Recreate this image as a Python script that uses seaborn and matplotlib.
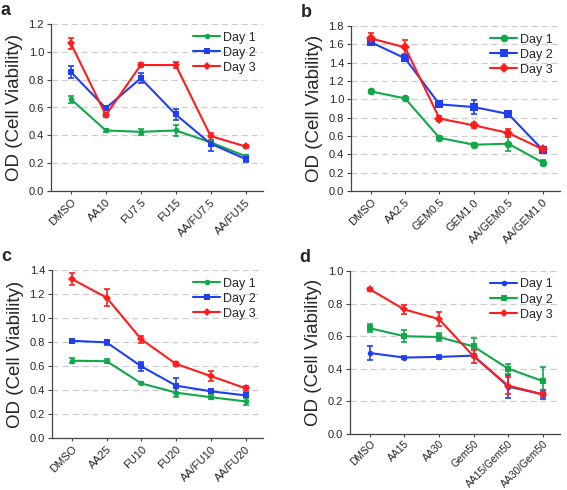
import numpy as np
import pandas as pd
import matplotlib
matplotlib.use('Agg')
import matplotlib.pyplot as plt
import seaborn as sns

# Panel a
cats_a = ['DMSO', 'AA10', 'FU7.5', 'FU15', 'AA/FU7.5', 'AA/FU15']
a_day1 = [0.66, 0.435, 0.425, 0.435, 0.35, 0.25]
a_day1_err = [0.025, 0.01, 0.02, 0.04, 0.02, 0.01]
a_day2 = [0.855, 0.595, 0.81, 0.55, 0.34, 0.23]
a_day2_err = [0.04, 0.015, 0.035, 0.04, 0.05, 0.02]
a_day3 = [1.06, 0.545, 0.905, 0.905, 0.395, 0.32]
a_day3_err = [0.04, 0.015, 0.015, 0.02, 0.025, 0.01]

# Panel b
cats_b = ['DMSO', 'AA2.5', 'GEM0.5', 'GEM1.0', 'AA/GEM0.5', 'AA/GEM1.0']
b_day1 = [1.087, 1.01, 0.58, 0.505, 0.516, 0.31]
b_day1_err = [0.015, 0.01, 0.02, 0.015, 0.085, 0.03]
b_day2 = [1.625, 1.447, 0.945, 0.916, 0.84, 0.447]
b_day2_err = [0.02, 0.02, 0.02, 0.075, 0.02, 0.02]
b_day3 = [1.665, 1.567, 0.79, 0.716, 0.633, 0.455]
b_day3_err = [0.06, 0.075, 0.03, 0.03, 0.04, 0.02]

# Panel c
cats_c = ['DMSO', 'AA25', 'FU10', 'FU20', 'AA/FU10', 'AA/FU20']
c_day1 = [0.644, 0.64, 0.455, 0.378, 0.34, 0.305]
c_day1_err = [0.02, 0.015, 0.008, 0.035, 0.015, 0.03]
c_day2 = [0.81, 0.797, 0.597, 0.436, 0.389, 0.355]
c_day2_err = [0.01, 0.02, 0.04, 0.065, 0.015, 0.015]
c_day3 = [1.325, 1.17, 0.822, 0.617, 0.516, 0.414]
c_day3_err = [0.05, 0.07, 0.03, 0.02, 0.045, 0.02]

# Panel d
cats_d = ['DMSO', 'AA15', 'AA30', 'Gem50', 'AA15/Gem50', 'AA30/Gem50']
d_day1 = [0.497, 0.469, 0.473, 0.481, 0.291, 0.243]
d_day1_err = [0.04, 0.01, 0.01, 0.01, 0.07, 0.03]
d_day2 = [0.649, 0.6, 0.595, 0.537, 0.401, 0.325]
d_day2_err = [0.025, 0.035, 0.025, 0.05, 0.03, 0.085]
d_day3 = [0.888, 0.764, 0.705, 0.477, 0.297, 0.243]
d_day3_err = [0.01, 0.025, 0.045, 0.04, 0.05, 0.015]

green = '#12a84a'
blue = '#1f3ff0'
red = '#ff1c1c'

sns.set_style('white')
plt.rcParams['font.family'] = ['Liberation Sans', 'DejaVu Sans']

fig = plt.figure(figsize=(5.67, 4.90), dpi=100)
W, H = 567, 490


def add_axes(x0, x1, ytop, ybot):
    return fig.add_axes([x0 / W, 1 - ybot / H, (x1 - x0) / W, (ybot - ytop) / H])


def panel(ax, cats, series, ymax, letter, msize, xfs=8, xpad=2):
    x = np.arange(len(cats))
    rows = []
    for name, vals, errs, col, mk in series:
        for xi, v in zip(x, vals):
            rows.append({'x': xi, 'y': v, 'Day': name})
    df = pd.DataFrame(rows)
    order = [s[0] for s in series]
    pal = {s[0]: s[3] for s in series}
    mks = {s[0]: s[4] for s in series}
    for name, vals, errs, col, mk in series:
        ax.errorbar(x, vals, yerr=errs, fmt='none', ecolor=col, elinewidth=1.2,
                    capsize=2.5, capthick=1.2, zorder=3)
    sns.lineplot(data=df, x='x', y='y', hue='Day', style='Day', hue_order=order,
                 style_order=order, palette=pal, markers=mks, dashes=False,
                 markersize=msize, markeredgewidth=0, linewidth=1.5, ax=ax,
                 zorder=4)
    ax.set_xlim(-0.57, len(cats) - 0.5)
    ax.set_ylim(0, ymax)
    step = 0.2
    ticks = np.arange(0, ymax + 0.001, step)
    ax.set_yticks(ticks)
    ax.set_yticklabels([f'{t:.1f}' for t in ticks], fontsize=8)
    ax.set_xticks(x)
    ax.set_xticklabels(cats, rotation=45, ha='right', rotation_mode='anchor', fontsize=xfs)
    ax.set_xlabel('')
    ax.set_ylabel('OD (Cell Viability)', fontsize=13.5, labelpad=4)
    for t in ticks[1:]:
        ax.axhline(t, color='#cccccc', linestyle=(0, (5, 3)), linewidth=0.9, zorder=1)
    for s in ['top', 'right']:
        ax.spines[s].set_visible(False)
    for s in ['left', 'bottom']:
        ax.spines[s].set_color('#444444')
        ax.spines[s].set_linewidth(0.9)
    ax.tick_params(axis='y', length=3, width=0.8, color='#444444', pad=2, left=True)
    ax.tick_params(axis='x', length=2.5, width=0.8, color='#444444', pad=xpad, bottom=True)
    ax.legend(loc='upper right', frameon=False, fontsize=9, handlelength=2.2,
              borderaxespad=0.2, labelspacing=0.25, handletextpad=0.2)
    ax.text(-0.24, 1.08, letter, transform=ax.transAxes, fontsize=13,
            fontweight='bold', va='center', ha='left')


ax_a = add_axes(51, 263, 24, 191)
panel(ax_a, cats_a, [('Day 1', a_day1, a_day1_err, green, 'o'),
                     ('Day 2', a_day2, a_day2_err, blue, 's'),
                     ('Day 3', a_day3, a_day3_err, red, 'D')], 1.2, 'a', 4)

ax_b = add_axes(351, 560, 26, 191)
panel(ax_b, cats_b, [('Day 1', b_day1, b_day1_err, green, 'o'),
                     ('Day 2', b_day2, b_day2_err, blue, 's'),
                     ('Day 3', b_day3, b_day3_err, red, 'D')], 1.8, 'b', 5.5)

ax_c = add_axes(52, 263, 270, 438)
panel(ax_c, cats_c, [('Day 1', c_day1, c_day1_err, green, 'o'),
                     ('Day 2', c_day2, c_day2_err, blue, 's'),
                     ('Day 3', c_day3, c_day3_err, red, 'D')], 1.4, 'c', 4)

ax_d = add_axes(350, 560, 271, 434)
panel(ax_d, cats_d, [('Day 1', d_day1, d_day1_err, blue, 'o'),
                     ('Day 2', d_day2, d_day2_err, green, 's'),
                     ('Day 3', d_day3, d_day3_err, red, 'D')], 1.0, 'd', 4,
      xfs=7.4, xpad=1)

fig.savefig('out.png', dpi=100)
